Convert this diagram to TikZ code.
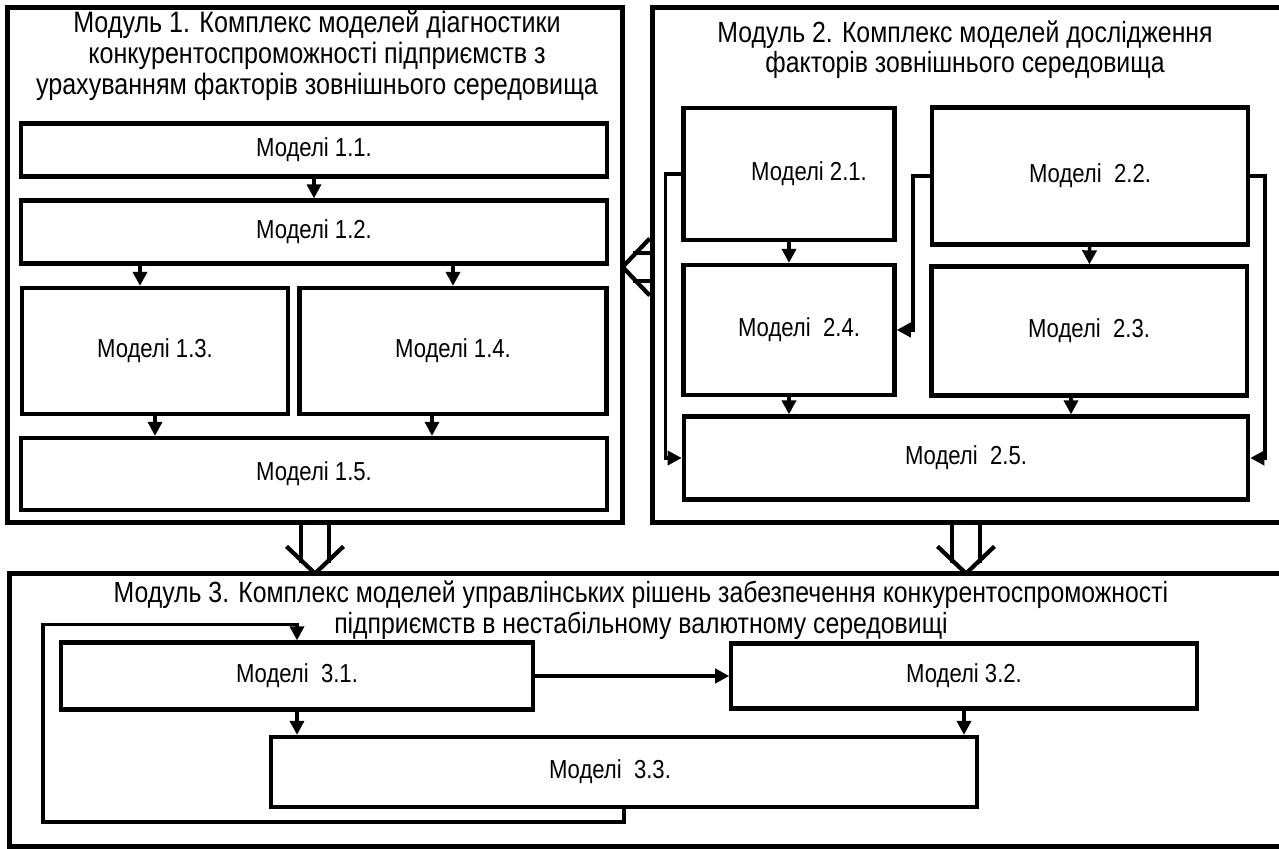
\documentclass[tikz,border=0pt]{standalone}
\usepackage{fontspec}
\setmainfont{Liberation Sans}[FakeStretch=0.85]
\usetikzlibrary{arrows.meta, positioning}

\begin{document}
\begin{tikzpicture}[x=0.01cm, y=-0.01cm]
\tikzstyle{module} = [rectangle, draw=black, line width=1.4pt, inner sep=0pt]
\tikzstyle{model} = [rectangle, draw=black, line width=1.2pt, fill=white, text centered, font=\fontsize{7.4}{9}\selectfont]
\tikzstyle{title} = [align=center, font=\fontsize{8.3}{8.5}\selectfont]
\tikzstyle{arrow} = [line width=1pt, -{Triangle[length=4pt,width=4pt]}]
\tikzstyle{link} = [line width=1.2pt, double distance=6.8pt, shorten <=0pt, shorten >=2.4pt]
\tikzstyle{linkhead} = [draw=white, line width=0.1pt, shorten >=-1.4pt, -{Straight Barb[black, line width=1.2pt, length=7.7pt, width=16.2pt]}]

\useasboundingbox (0,0) rectangle (1279,849);

% modules
\node (m1) [module, minimum width=6.14cm, minimum height=5.14cm] at (315,265) {};
\node (m2) [module, minimum width=6.5cm, minimum height=5.14cm] at (978,265) {};
\node (m3) [module, minimum width=13cm, minimum height=2.72cm] at (660,710) {};

\node (t1) [title, font=\fontsize{8.4}{8.8}\selectfont] at (317,56) {Модуль 1. Комплекс моделей діагностики\\конкурентоспроможності підприємств з\\урахуванням факторів зовнішнього середовища};
\node (t2) [title] at (965,50) {Модуль 2. Комплекс моделей дослідження\\факторів зовнішнього середовища};
\node (t3) [title, font=\fontsize{8.3}{7.4}\selectfont] at (641,610) {Модуль 3. Комплекс моделей управлінських рішень забезпечення конкурентоспроможності\\підприємств в нестабільному валютному середовищі};

% module 1
\node (b11) [model, minimum width=5.85cm, minimum height=0.53cm] at (314,150) {Моделі 1.1.};
\node (b12) [model, minimum width=5.85cm, minimum height=0.63cm] at (314,232) {Моделі 1.2.};
\node (b13) [model, minimum width=2.66cm, minimum height=1.26cm] at (155,351) {Моделі 1.3.};
\node (b14) [model, minimum width=3.07cm, minimum height=1.26cm] at (453,351) {Моделі 1.4.};
\node (b15) [model, minimum width=5.85cm, minimum height=0.72cm] at (314,474) {Моделі 1.5.};

% module 2
\node (b21) [model, minimum width=2.11cm, minimum height=1.32cm] at (789,174) {\hspace*{0.4cm}Моделі 2.1.};
\node (b22) [model, minimum width=3.16cm, minimum height=1.37cm] at (1090,176) {Моделі~~2.2.};
\node (b24) [model, minimum width=2.11cm, minimum height=1.30cm] at (789,330) {\hspace*{0.2cm}Моделі~~2.4.};
\node (b23) [model, minimum width=3.15cm, minimum height=1.29cm] at (1089,331) {Моделі~~2.3.};
\node (b25) [model, minimum width=5.64cm, minimum height=0.83cm] at (966,458) {Моделі~~2.5.};

% module 3
\node (b31) [model, minimum width=4.71cm, minimum height=0.67cm] at (297,676) {Моделі~~3.1.};
\node (b32) [model, minimum width=4.65cm, minimum height=0.65cm] at (964,676) {Моделі 3.2.};
\node (b33) [model, minimum width=7.06cm, minimum height=0.70cm] at (624,772) {Моделі~~3.3.\hspace*{0.28cm}};
\coordinate (lp) at (43,822);
\coordinate (lnk) at (640,267);

% arrows in module 1
\draw [arrow] (b11) -- (b12);
\draw [arrow] ([xshift=-0.15cm]b13.north |- b12.south) -- ([xshift=-0.15cm]b13.north);
\draw [arrow] (b14.north |- b12.south) -- (b14.north);
\draw [arrow] (b13.south) -- (b13.south |- b15.north);
\draw [arrow] ([xshift=-0.21cm]b14.south) -- ([xshift=-0.21cm]b14.south |- b15.north);

% arrows in module 2
\draw [arrow] (b21) -- (b24);
\draw [arrow] (b22) -- (b23);
\draw [arrow] (b24.south) -- (b24.south |- b25.north);
\draw [arrow] ([xshift=-0.18cm]b23.south) -- ([xshift=-0.18cm]b23.south |- b25.north);
\draw [arrow] (b21.west) -- ++(-16,0) |- (b25.west);
\draw [arrow] (b22.west) -- ++(-17,0) |- (b24.east);
\draw [arrow] (b22.east) -- ++(15,0) |- (b25.east);

% arrows in module 3
\draw [arrow] (b31) -- (b32);
\draw [arrow] (b31.south) -- (b31.south |- b33.north);
\draw [arrow] (b32.south) -- (b32.south |- b33.north);
\draw [arrow] (b33.south) |- (lp) |- ([yshift=0.16cm]b31.north) -- (b31.north);

% links between modules
\draw [link] (lnk -| m2.west) -- (lnk -| m1.east);
\draw [linkhead] (lnk -| m2.west) -- (lnk -| m1.east);
\draw [link] (m1.south) -- (m1.south |- m3.north);
\draw [linkhead] (m1.south) -- (m1.south |- m3.north);
\draw [link] (b25.south |- m2.south) -- (b25.south |- m3.north);
\draw [linkhead] (b25.south |- m2.south) -- (b25.south |- m3.north);
\end{tikzpicture}
\end{document}
